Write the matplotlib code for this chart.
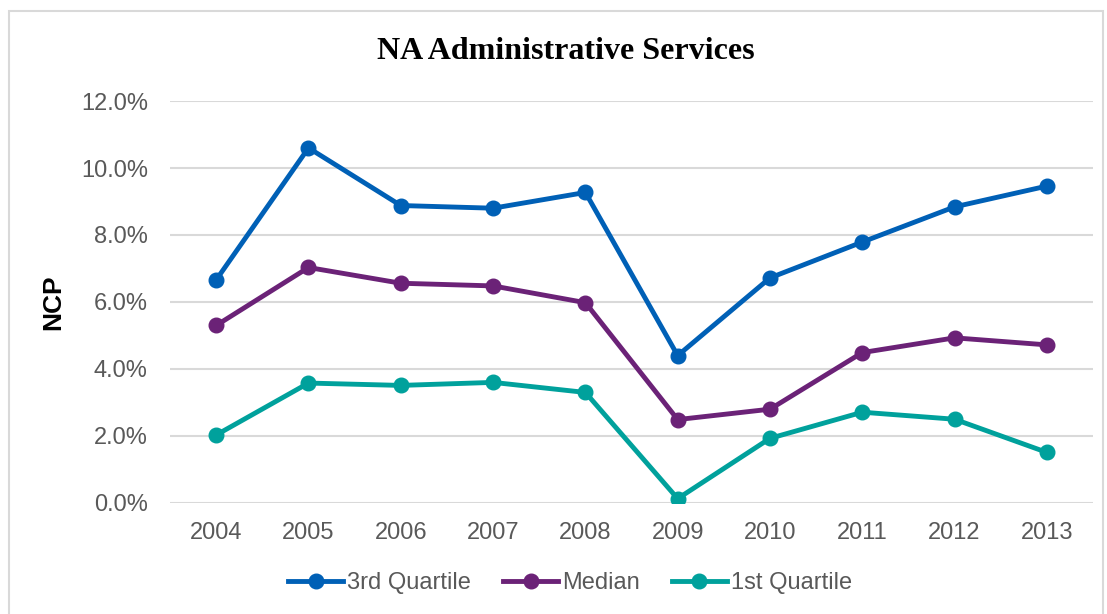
import matplotlib.pyplot as plt
from matplotlib.patches import Rectangle
from matplotlib.ticker import PercentFormatter

years = ['2004', '2005', '2006', '2007', '2008', '2009', '2010', '2011', '2012', '2013']
q3 = [6.66, 10.6, 8.88, 8.8, 9.27, 4.4, 6.72, 7.79, 8.84, 9.46]
median = [5.3, 7.03, 6.56, 6.48, 5.98, 2.49, 2.8, 4.49, 4.93, 4.72]
q1 = [2.03, 3.58, 3.51, 3.6, 3.3, 0.13, 1.93, 2.71, 2.5, 1.51]

plt.rcParams['font.family'] = ['Liberation Sans', 'DejaVu Sans']

fig = plt.figure(figsize=(11.07, 6.14), dpi=100)
ax = fig.add_axes([0.1536, 0.1808, 0.8338, 0.6547])

# light frame around the chart area
fig.patches.append(Rectangle((9 / 1107, -0.05), 1094 / 1107, 1.05 - 11 / 614,
                             transform=fig.transFigure, fill=False,
                             edgecolor='#d9d9d9', linewidth=1.5))

x = range(len(years))
ax.plot(x, q3, color='#0060b6', marker='o', linewidth=3.5, markersize=10.5, label='3rd Quartile', zorder=3)
ax.plot(x, median, color='#6b2277', marker='o', linewidth=3.5, markersize=10.5, label='Median', zorder=3)
ax.plot(x, q1, color='#00a19c', marker='o', linewidth=3.5, markersize=10.5, label='1st Quartile', zorder=3)

ax.set_xlim(-0.5, len(years) - 0.5)
ax.set_ylim(0, 12)
ax.set_yticks([0, 2, 4, 6, 8, 10, 12])
ax.yaxis.set_major_formatter(PercentFormatter(decimals=1))
ax.set_xticks(list(x))
ax.set_xticklabels(years)
ax.tick_params(length=0, labelsize=17, colors='#595959')
ax.tick_params(axis='x', pad=14)
ax.tick_params(axis='y', pad=16)
ax.grid(axis='y', color='#d9d9d9', linewidth=1.5)
ax.set_axisbelow(True)
for s in ax.spines.values():
    s.set_visible(False)

ax.set_ylabel('NCP', fontsize=19, fontweight='bold', labelpad=11)
fig.text(0.511, 0.916, 'NA Administrative Services', ha='center', va='center',
         fontsize=23, fontweight='bold', family='Liberation Serif')

fig.legend(loc='center', bbox_to_anchor=(0.515, 0.05), ncol=3, frameon=False,
           fontsize=17, handlelength=2.33, handletextpad=0.17, columnspacing=1.35,
           labelcolor='#595959')

fig.savefig('out.png', dpi=100)
